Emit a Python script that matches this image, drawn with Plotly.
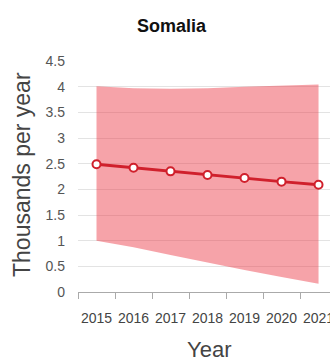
import plotly.graph_objects as go

years = ["2015", "2016", "2017", "2018", "2019", "2020", "2021"]
estimate = [2.49, 2.42, 2.35, 2.28, 2.22, 2.15, 2.09]
upper = [4.01, 3.97, 3.96, 3.97, 4.00, 4.02, 4.04]
lower = [1.00, 0.87, 0.72, 0.57, 0.43, 0.29, 0.16]
y_ticks = [0, 0.5, 1, 1.5, 2, 2.5, 3, 3.5, 4, 4.5]

RED = "rgb(208,32,44)"
BAND = "rgba(236,52,64,0.45)"
NARROW = "Liberation Sans Narrow, Arial Narrow, Liberation Sans, Arial, sans-serif"
REG = "Liberation Sans, Arial, sans-serif"

W, H = 330, 363
L, T, B = 78, 61, 71
plot_h = H - T - B

fig = go.Figure()
fig.add_trace(go.Scatter(x=years, y=lower, mode="lines", line=dict(width=0),
                         showlegend=False, hoverinfo="skip"))
fig.add_trace(go.Scatter(x=years, y=upper, mode="lines", line=dict(width=0),
                         fill="tonexty", fillcolor=BAND, showlegend=False,
                         hoverinfo="skip"))
fig.add_trace(go.Scatter(x=years, y=estimate, mode="lines+markers",
                         line=dict(color=RED, width=3),
                         marker=dict(size=8, color="white",
                                     line=dict(color=RED, width=2)),
                         showlegend=False))

fig.update_layout(
    width=W, height=H,
    margin=dict(l=L, r=0, t=T, b=B, pad=0, autoexpand=False),
    plot_bgcolor="white", paper_bgcolor="white",
    xaxis=dict(type="category", range=[-0.5, 6.31], tickson="boundaries",
               ticks="outside", ticklen=6, tickcolor="#aaaaaa",
               showline=True, linecolor="#aaaaaa", linewidth=1,
               showgrid=False, zeroline=False, ticklabelstandoff=13,
               tickangle=0, automargin=False,
               tickfont=dict(family=REG, size=14, color="#444444")),
    yaxis=dict(range=[0, 4.5], tickvals=y_ticks,
               ticktext=[f"{v:g}" for v in y_ticks],
               showgrid=True, gridcolor="#e3e3e3", gridwidth=1,
               zeroline=False, showline=False, ticks="",
               ticklabelstandoff=12, automargin=False,
               tickfont=dict(family=REG, size=14, color="#555555")),
    annotations=[
        dict(text="<b>Somalia</b>", xref="paper", yref="paper",
             x=(172 - L) / (W - L), y=(H - B - 26) / plot_h,
             xanchor="center", yanchor="middle", showarrow=False,
             font=dict(family=NARROW, size=18, color="#111111")),
        dict(text="Year", xref="paper", yref="paper",
             x=(209 - L) / (W - L), y=(H - B - 349) / plot_h,
             xanchor="center", yanchor="middle", showarrow=False,
             font=dict(family=NARROW, size=22, color="#444444")),
        dict(text="Thousands per year", xref="paper", yref="paper",
             x=(22 - L) / (W - L), y=(H - B - 175) / plot_h,
             xanchor="center", yanchor="middle", showarrow=False,
             textangle=-90,
             font=dict(family=REG, size=23, color="#444444")),
    ],
)

fig.write_html("out.html")
